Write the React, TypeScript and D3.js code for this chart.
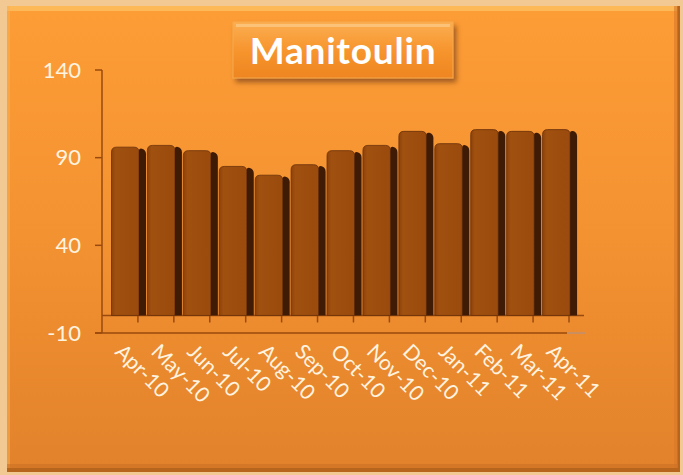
import React from 'react';
import * as d3 from 'd3';

const months = ['Apr-10', 'May-10', 'Jun-10', 'Jul-10', 'Aug-10', 'Sep-10', 'Oct-10', 'Nov-10', 'Dec-10', 'Jan-11', 'Feb-11', 'Mar-11', 'Apr-11'];
const values = [96, 97, 94, 85, 80, 86, 94, 97, 105, 98, 106, 105, 106];
const yTicks = [-10, 40, 90, 140];
const title = 'Manitoulin';

const W = 683;
const H = 475;
const axisColor = '#9a4a0e';
const labelColor = '#fff4e0';
const font = 'Lato, "Open Sans", sans-serif';

export default function App() {
  const x = d3.scaleBand<string>().domain(months).range([102, 569]).padding(0);
  const y = d3.scaleLinear().domain([-10, 140]).range([333, 70]);
  const bw = x.bandwidth();
  const floorBack = y(0);

  // front face of a bar, top corners rounded
  const barPath = (v: number, i: number) => {
    const x0 = (x(months[i]) as number) + 9.5;
    const w = 27.5;
    const top = y(v);
    const r = 5;
    const p = d3.path();
    p.moveTo(x0, floorBack);
    p.lineTo(x0, top + r);
    p.quadraticCurveTo(x0, top, x0 + r, top);
    p.lineTo(x0 + w - r, top);
    p.quadraticCurveTo(x0 + w, top, x0 + w, top + r);
    p.lineTo(x0 + w, floorBack);
    p.closePath();
    return p.toString();
  };

  // dark depth side
  const sidePath = (v: number, i: number) => {
    const x0 = (x(months[i]) as number) + 9.5 + 27.5;
    const w = 7;
    const top = y(v) + 1;
    const p = d3.path();
    p.moveTo(x0, floorBack);
    p.lineTo(x0, top + 2);
    p.quadraticCurveTo(x0, top, x0 + 3, top + 0.5);
    p.quadraticCurveTo(x0 + w, top + 1.5, x0 + w, top + 6);
    p.lineTo(x0 + w, floorBack);
    p.closePath();
    return p.toString();
  };

  return (
    <svg width={W} height={H} style={{ position: 'absolute', left: 0, top: 0 }}>
      <defs>
        <linearGradient id="bg" x1="0" y1="0" x2="0" y2="1">
          <stop offset="0" stopColor="#fd9d36" />
          <stop offset="0.5" stopColor="#f39231" />
          <stop offset="1" stopColor="#e2822b" />
        </linearGradient>
        <linearGradient id="titleFill" x1="0" y1="0" x2="0" y2="1">
          <stop offset="0" stopColor="#fbae52" />
          <stop offset="0.5" stopColor="#f7952e" />
          <stop offset="1" stopColor="#ee8520" />
        </linearGradient>
        <linearGradient id="barFill" x1="0" y1="0" x2="1" y2="0">
          <stop offset="0" stopColor="#8e430c" />
          <stop offset="0.15" stopColor="#a0500f" />
          <stop offset="1" stopColor="#9a4b0d" />
        </linearGradient>
        <filter id="shadow" x="-10%" y="-20%" width="130%" height="160%">
          <feDropShadow dx="3" dy="4" stdDeviation="2.5" floodColor="#6b3208" floodOpacity="0.6" />
        </filter>
      </defs>

      {/* frame */}
      <rect x={0} y={0} width={W} height={H} fill="#f2c893" />
      <rect x={7} y={6} width={673} height={466} fill="#b7651d" />
      <rect x={7} y={6} width={670} height={462} fill="url(#bg)" />
      <rect x={7} y={6} width={670} height={5} fill="#fcc062" opacity={0.8} />
      <rect x={7} y={6} width={3} height={462} fill="#f7b15a" opacity={0.5} />
      <rect x={674} y={6} width={4} height={462} fill="#d8782a" opacity={0.6} />
      <rect x={7} y={464} width={670} height={4} fill="#cc7225" opacity={0.6} />

      {/* title */}
      <g filter="url(#shadow)">
        <rect x={233} y={22} width={220} height={56} fill="url(#titleFill)" stroke="#f7a94c" strokeWidth={1} />
      </g>
      <rect x={236} y={24} width={214} height={3} fill="#fcc883" opacity={0.8} />
      <text x={343} y={64} textAnchor="middle" fill="#ffffff" fontFamily={font} fontWeight={700} fontSize={37} letterSpacing={0.8}>
        {title}
      </text>

      {/* y axis */}
      <line x1={102} x2={102} y1={y(140)} y2={y(-10)} stroke={axisColor} strokeWidth={1.5} />
      {yTicks.map(t => (
        <g key={t}>
          <line x1={95} x2={102} y1={y(t)} y2={y(t)} stroke={axisColor} strokeWidth={1.5} />
          <text x={81} y={y(t)} dy="0.35em" textAnchor="end" fill={labelColor} fontFamily={font} fontSize={22}>
            {t}
          </text>
        </g>
      ))}

      {/* floor */}
      <line x1={102} x2={584} y1={floorBack} y2={floorBack} stroke={axisColor} strokeWidth={1.5} />
      <line x1={95} x2={567} y1={y(-10)} y2={y(-10)} stroke={axisColor} strokeWidth={1.5} />
      <line x1={567} x2={585} y1={y(-10)} y2={y(-10)} stroke="#c09070" strokeWidth={1.5} />
      {months.map(m => (
        <line key={m} x1={(x(m) as number) + bw} x2={(x(m) as number) + bw} y1={floorBack} y2={floorBack + 7} stroke={axisColor} strokeWidth={1.5} />
      ))}

      {/* bars */}
      {values.map((v, i) => (
        <g key={months[i]}>
          <path d={barPath(v, i)} fill="url(#barFill)" stroke="#6a300a" strokeWidth={0.8} />
          <path d={sidePath(v, i)} fill="#3f1a05" />
        </g>
      ))}

      {/* x labels */}
      {months.map(m => (
        <text
          key={m}
          transform={`translate(${(x(m) as number) + bw / 2 + 6}, 341) rotate(45)`}
          dominantBaseline="hanging"
          fill={labelColor}
          fontFamily={font}
          fontSize={21}
        >
          {m}
        </text>
      ))}
    </svg>
  );
}
